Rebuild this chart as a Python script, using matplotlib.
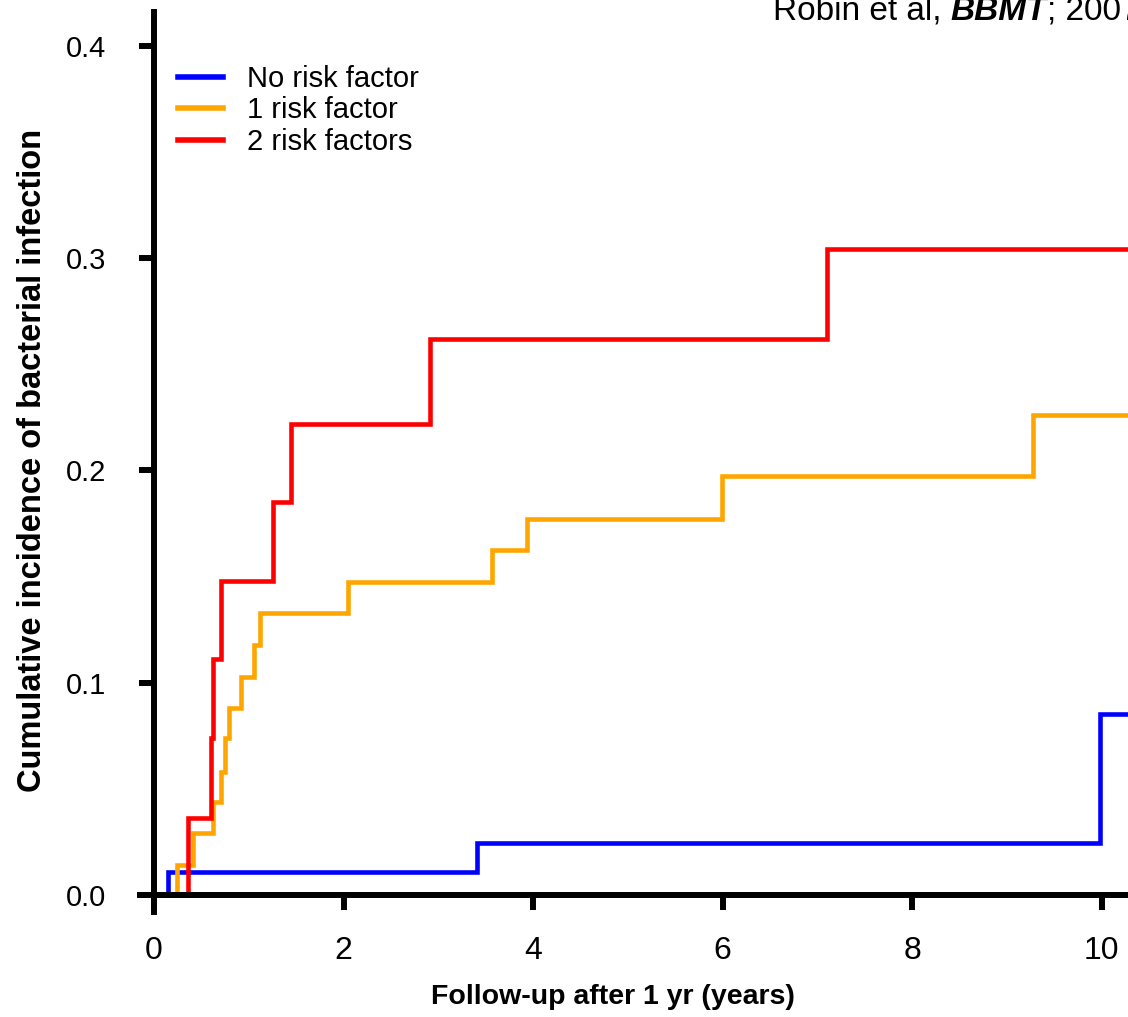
import numpy as np
import matplotlib
matplotlib.use("Agg")
import matplotlib.pyplot as plt

# step data (years, cumulative incidence)
t_none = [0, 0.144, 3.41, 9.98, 10.6]
y_none = [0, 0.011, 0.0246, 0.0853, 0.0853]

t_one = [0, 0.239, 0.408, 0.619, 0.707, 0.753, 0.788, 0.918, 1.059, 1.119,
         2.044, 3.565, 3.935, 5.99, 9.28, 10.6]
y_one = [0, 0.0141, 0.0292, 0.0438, 0.058, 0.074, 0.088, 0.1027, 0.1178, 0.1329,
         0.1475, 0.1625, 0.1771, 0.1974, 0.2261, 0.2261]

t_two = [0, 0.355, 0.60, 0.626, 0.707, 1.252, 1.446, 2.914, 7.10, 10.6]
y_two = [0, 0.0363, 0.074, 0.111, 0.148, 0.185, 0.222, 0.262, 0.3044, 0.3044]

labels = ["No risk factor", "1 risk factor", "2 risk factors"]
colors = ["#0000FF", "#FFA500", "#FF0000"]
xticks = [0, 2, 4, 6, 8, 10]
yticks = [0.0, 0.1, 0.2, 0.3, 0.4]

W, H = 1128, 1017
fig = plt.figure(figsize=(W / 100, H / 100), dpi=100)
ax = fig.add_axes([140 / W, 1 - 912 / H, (W - 140) / W, (912 - 12) / H])

for t, y, lab, c in zip([t_none, t_one, t_two], [y_none, y_one, y_two], labels, colors):
    ax.plot(t, y, drawstyle="steps-post", color=c, lw=3.3, label=lab,
            solid_joinstyle="miter")

ax.set_xlim(-0.148, 10.278)
ax.set_ylim(-0.008, 0.416)

for s in ["top", "right"]:
    ax.spines[s].set_visible(False)
ax.spines["left"].set_position(("data", 0))
ax.spines["bottom"].set_position(("data", 0))
for s in ["left", "bottom"]:
    ax.spines[s].set_linewidth(4.3)
    ax.spines[s].set_zorder(3)

sans = ["Liberation Sans", "DejaVu Sans"]

ax.set_xticks(xticks)
ax.set_xticklabels([str(v) for v in xticks])
ax.set_yticks(yticks)
ax.set_yticklabels([f"{v:.1f}" for v in yticks])
ax.tick_params(axis="both", direction="out", length=11, width=4.3, color="black")
ax.tick_params(axis="y", pad=23.5, labelsize=21)
ax.tick_params(axis="x", pad=18.5, labelsize=23)
for lbl in ax.get_xticklabels() + ax.get_yticklabels():
    lbl.set_family(sans)

ax.set_xlabel("Follow-up after 1 yr (years)", fontsize=20.5, fontweight="bold",
              family=sans, va="center")
ax.xaxis.set_label_coords((613 - 140) / 988, (912 - 997) / 900)
ax.set_ylabel("Cumulative incidence of bacterial infection", fontsize=23.5,
              fontweight="bold", family=sans, va="center")
ax.yaxis.set_label_coords((33 - 140) / 988, (912 - 460) / 900)

leg = ax.legend(loc="upper left", bbox_to_anchor=(178 / W, 1 - 65 / H),
                bbox_transform=fig.transFigure, frameon=False,
                prop={"family": sans, "size": 21}, handlelength=1.55,
                handletextpad=0.82, labelspacing=0.12, borderpad=0,
                borderaxespad=0)
for line in leg.get_lines():
    line.set_linewidth(4)

# citation at top right, partly cut by the image edge as in the source
cite_font = {"family": sans, "size": 24}
base = 1 - 20 / H
t1 = fig.text(773 / W, base, "Robin et al, ", va="baseline", ha="left", **cite_font)
fig.canvas.draw()
r = fig.canvas.get_renderer()
x1 = t1.get_window_extent(r).x1
t2 = fig.text(x1 / W, base, "BBMT", va="baseline", ha="left",
              fontweight="bold", fontstyle="italic", **cite_font)
x2 = t2.get_window_extent(r).x1
fig.text(x2 / W, base, "; 2007", va="baseline", ha="left", **cite_font)

fig.savefig("out.png", dpi=100)
